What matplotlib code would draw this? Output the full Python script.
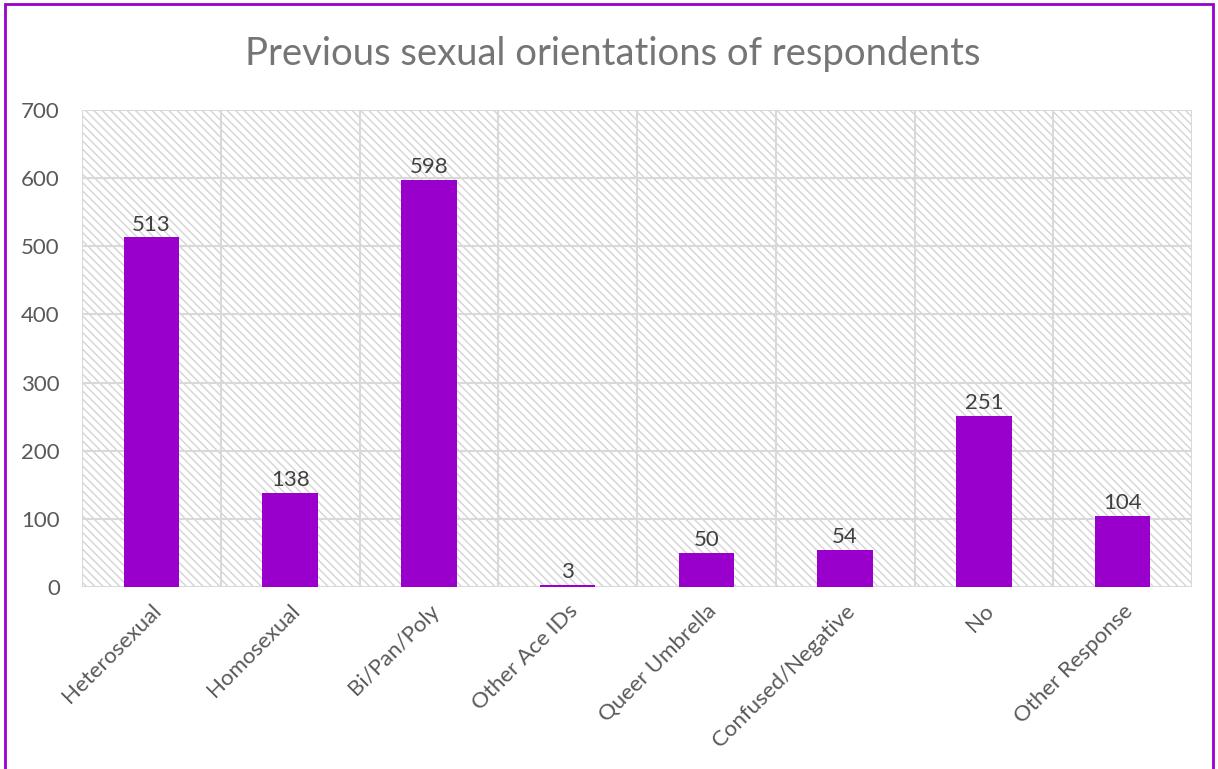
import matplotlib
matplotlib.use("Agg")
import matplotlib.pyplot as plt
from matplotlib.patches import Rectangle

categories = ["Heterosexual", "Homosexual", "Bi/Pan/Poly", "Other Ace IDs",
              "Queer Umbrella", "Confused/Negative", "No", "Other Response"]
values = [513, 138, 598, 3, 50, 54, 251, 104]
yticks = [0, 100, 200, 300, 400, 500, 600, 700]
title = "Previous sexual orientations of respondents"

plt.rcParams['font.family'] = ['Lato', 'DejaVu Sans']
plt.rcParams['hatch.color'] = '#d4d4d4'
plt.rcParams['hatch.linewidth'] = 1.0

W, H = 1218, 769
fig = plt.figure(figsize=(W/100, H/100), dpi=100)
ax = fig.add_axes([82/W, 1-587/H, (1192-82)/W, (587-110)/H])

purple = '#9900CC'
ax.set_facecolor('white')
ax.patch.set_hatch('\\\\\\\\')
ax.patch.set_edgecolor('#d4d4d4')

x = list(range(len(categories)))
bars = ax.bar(x, values, width=0.4, color=purple, zorder=3)
for xi, v in zip(x, values):
    ax.text(xi, v + 4, str(v), ha='center', va='bottom', fontsize=16, color='#404040', zorder=4)

ax.set_xlim(-0.5, len(categories) - 0.5)
ax.set_ylim(0, 700)
ax.set_yticks(yticks)
ax.set_yticklabels([str(t) for t in yticks], fontsize=16, color='#595959')
ax.set_xticks(x)
ax.set_xticklabels(categories, rotation=45, ha='right', rotation_mode='anchor',
                   fontsize=16, color='#595959')
ax.tick_params(axis='x', length=0, pad=10)
ax.tick_params(axis='y', length=0, pad=16)

for yv in yticks:
    ax.axhline(yv, color='#d9d9d9', lw=1.5, zorder=1)
for b in range(len(categories) + 1):
    ax.axvline(b - 0.5, color='#d9d9d9', lw=1.5, zorder=1)
for s in ax.spines.values():
    s.set_visible(False)

fig.text(613/W, 1-54/H, title, ha='center', va='center', fontsize=27.5, color='#757575')

fig.patches.append(Rectangle((5/W, -0.1), (1213-5)/W, 1.1 - 4/H, transform=fig.transFigure,
                             fill=False, edgecolor=purple, lw=2))

fig.savefig('out.png', dpi=100)
